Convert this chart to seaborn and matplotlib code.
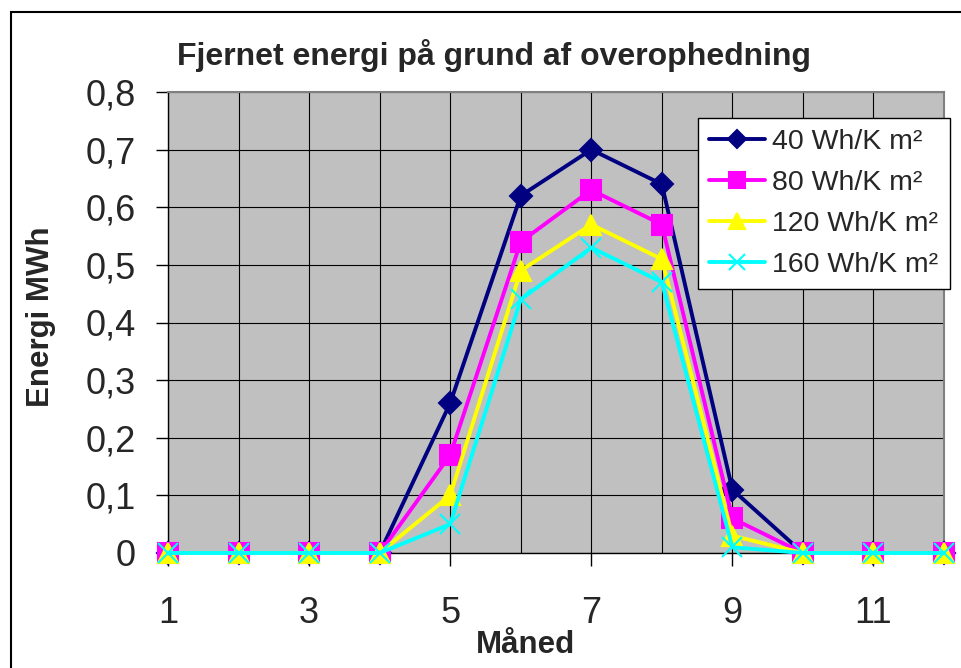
import seaborn as sns
import matplotlib.pyplot as plt
from matplotlib.patches import Rectangle

# data
months = [1, 2, 3, 4, 5, 6, 7, 8, 9, 10, 11, 12]
e40 = [0, 0, 0, 0, 0.26, 0.62, 0.70, 0.64, 0.11, 0, 0, 0]
e80 = [0, 0, 0, 0, 0.17, 0.54, 0.63, 0.57, 0.06, 0, 0, 0]
e120 = [0, 0, 0, 0, 0.10, 0.49, 0.57, 0.51, 0.03, 0, 0, 0]
e160 = [0, 0, 0, 0, 0.05, 0.44, 0.53, 0.47, 0.01, 0, 0, 0]
series_labels = ['40 Wh/K m²', '80 Wh/K m²', '120 Wh/K m²', '160 Wh/K m²']
xtick_vals = [1, 3, 5, 7, 9, 11]
ytick_vals = [0, 0.1, 0.2, 0.3, 0.4, 0.5, 0.6, 0.7, 0.8]
ytick_labels = ['0', '0,1', '0,2', '0,3', '0,4', '0,5', '0,6', '0,7', '0,8']

sns.set_style('white')
plt.rcParams['font.family'] = ['Liberation Sans', 'DejaVu Sans']

fig = plt.figure(figsize=(9.61, 6.68), dpi=100)
ax = fig.add_axes([168/961, 1 - 553/668, 776/961, 461/668])
ax.set_facecolor('#C0C0C0')

styles = [
    ('#000080', 'D', 11),
    ('#FF00FF', 's', 14),
    ('#FFFF00', '^', 15),
    ('#00FFFF', 'x', 14),
]
for vals, lab, (col, mk, ms) in zip([e40, e80, e120, e160], series_labels, styles):
    sns.lineplot(x=months, y=vals, ax=ax, color=col, marker=mk, markersize=ms,
                 linewidth=2.8, markeredgecolor=col, markeredgewidth=1.5,
                 label=lab, legend=False, clip_on=False, zorder=3)

ax.set_xlim(1, 12)
ax.set_ylim(0, 0.8)
ax.set_xticks(xtick_vals)
ax.set_xticks(months, minor=True)
ax.set_yticks(ytick_vals, labels=ytick_labels)
ax.grid(True, which='both', color='black', linewidth=0.8)
ax.set_axisbelow(True)
ax.tick_params(axis='both', which='major', labelsize=26, length=9, width=1,
               direction='out', color='black')
ax.tick_params(axis='x', which='major', pad=22, bottom=True)
ax.tick_params(axis='y', which='major', pad=14, left=True)
ax.tick_params(axis='x', which='minor', length=0)
ax.set_xlabel('')
ax.set_ylabel('')

for side in ['left', 'bottom']:
    ax.spines[side].set_color('black')
    ax.spines[side].set_linewidth(1)
for side in ['top', 'right']:
    ax.spines[side].set_color('#808080')
    ax.spines[side].set_linewidth(1.5)

leg = ax.legend(loc='upper right', bbox_to_anchor=(950/961, 1 - 118/668),
                bbox_transform=fig.transFigure, borderaxespad=0,
                fontsize=20.5, frameon=True, fancybox=False, edgecolor='black',
                framealpha=1, handlelength=1.95, handletextpad=0.28,
                labelspacing=0.52, borderpad=0.4, markerscale=0.8)
leg.get_frame().set_linewidth(1)

fig.text(494/961, 1 - 55/668, 'Fjernet energi på grund af overophedning',
         ha='center', va='center', fontsize=23, fontweight='bold')
fig.text(525/961, 1 - 645/668, 'Måned', ha='center', va='center',
         fontsize=22.5, fontweight='bold')
fig.text(41/961, 1 - 317/668, 'Energi MWh', ha='center', va='center',
         rotation=90, fontsize=22.5, fontweight='bold')

# outer chart border
fig.patches.append(Rectangle((11/961, -0.1), 1.2, 1.1 - 12.5/668,
                             transform=fig.transFigure, fill=False,
                             edgecolor='black', linewidth=1.5))

fig.savefig('out.png', dpi=100)
